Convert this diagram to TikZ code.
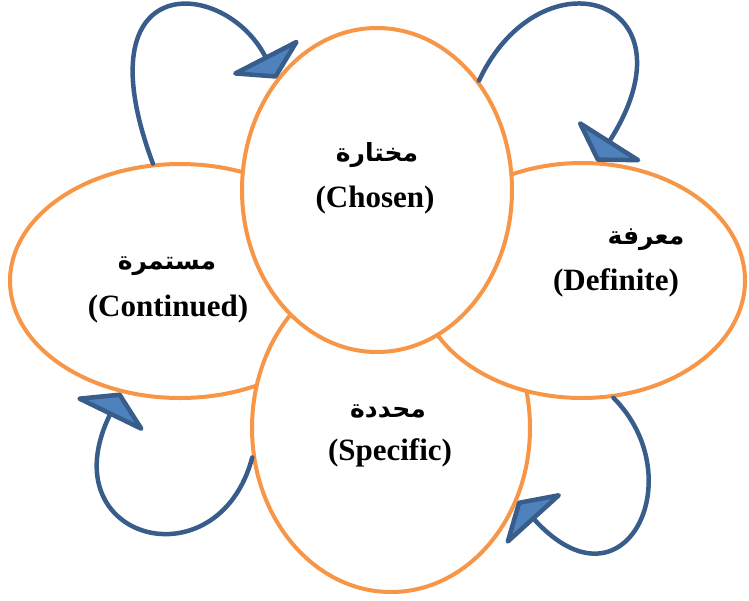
\documentclass[tikz,border=0pt]{standalone}
\usepackage{fontspec}
\setmainfont{Liberation Serif}
\newfontfamily\arabicfont[Script=Arabic]{DejaVu Sans}
\TeXXeTstate=1
\usetikzlibrary{shapes.geometric,arrows.meta}
\definecolor{petalorange}{HTML}{F79646}
\definecolor{loopblue}{HTML}{385D8A}
\definecolor{headblue}{HTML}{4F81BD}

\begin{document}
\begin{tikzpicture}[x=1pt,y=-1pt,line cap=round]
	\tikzstyle{petal}=[ellipse,draw=petalorange,line width=4pt,fill=white,inner sep=0pt];
	\tikzstyle{loop1}=[draw=loopblue,line width=4.5pt,-{Triangle[length=26pt,width=84pt,fill=headblue,round]}];
	\tikzstyle{ar}=[font=\arabicfont\bfseries\fontsize{25}{30}\selectfont];
	\tikzstyle{en}=[font=\bfseries\fontsize{31}{36}\selectfont];

	\useasboundingbox (0,0) rectangle (749,600);

	% the four petals, back to front
	\node[petal,minimum width=340pt,minimum height=234pt] (continued) at (180,281) {};
	\node[petal,minimum width=278pt,minimum height=328pt] (specific) at (391,428) {};
	\node[petal,minimum width=326pt,minimum height=235pt] (definite) at (582,280.5) {};
	\node[petal,minimum width=270pt,minimum height=324pt] (chosen) at (377,190) {};

	\node[ar] (chosenar) at (377,155) {\beginR مختارة\endR};
	\node[en] (chosenen) at (375,200) {(Chosen)};
	\node[ar] (continuedar) at (167,266) {\beginR مستمرة\endR};
	\node[en] (continueden) at (168,309) {(Continued)};
	\node[ar] (definitear) at (646,240) {\beginR معرفة\endR};
	\node[en] (definiteen) at (616,283) {(Definite)};
	\node[ar] (specificar) at (388,411) {\beginR محددة\endR};
	\node[en] (specificen) at (390,453) {(Specific)};

	% loops between the petals
	\draw[loop1] (continued.103) .. controls +(-73,-196) and +(-52,-101) .. (chosen.132);
	\draw[loop1] (chosen.47) .. controls +(62,-132) and +(104,-164) .. (definite.83);
	\draw[loop1] (definite.285) .. controls +(80,80) and +(107,118) .. (specific.330);
	\draw[loop1] (specific.192) .. controls +(-34,128) and +(-72,148) .. (continued.242);
\end{tikzpicture}
\end{document}
